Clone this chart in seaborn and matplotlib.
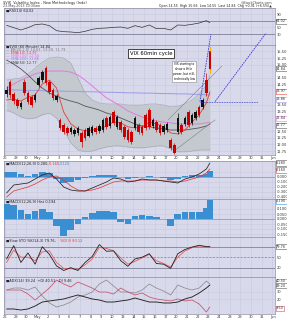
import numpy as np
import pandas as pd
import matplotlib
matplotlib.use("Agg")
import matplotlib.pyplot as plt
import seaborn as sns

sns.set_style("white")
plt.rcParams['font.family'] = ['DejaVu Sans']

# ------------------------------------------------------------------ data
date_labels = ["26", "29", "30", "May", "2", "3", "6", "7", "8", "9", "10", "13", "14",
               "15", "16", "17", "20", "21", "22", "23", "24", "28", "29", "30", "31", "Jun"]

opens = [13.90, 14.35, 13.90, 13.67, 13.41, 14.35, 13.93, 13.78, 13.67, 14.23,
         14.42, 14.87, 14.35, 14.05, 13.67, 12.92, 12.73, 12.62, 12.47, 12.39,
         12.43, 12.43, 12.54, 12.32, 12.43, 12.62, 12.50, 12.54, 12.99, 12.69,
         13.22, 12.66, 12.84, 12.66, 12.54, 12.47, 12.62, 12.73, 12.66, 13.11,
         13.29, 12.69, 12.84, 12.73, 12.47, 12.54, 12.17, 11.98, 12.47, 12.73,
         12.77, 13.22, 12.81, 12.99, 13.41, 13.41, 14.42, 15.51]
highs = [14.20, 14.42, 13.97, 13.75, 13.63, 14.45, 14.00, 13.86, 13.93, 14.57,
         14.80, 14.95, 14.42, 14.12, 13.90, 13.00, 12.80, 12.70, 12.70, 12.60,
         12.70, 12.50, 12.62, 12.69, 12.73, 12.69, 12.77, 13.00, 13.07, 13.11,
         13.30, 13.11, 12.92, 12.73, 12.62, 12.54, 13.07, 12.80, 12.73, 13.18,
         13.37, 13.00, 12.92, 12.80, 12.77, 12.84, 12.24, 12.05, 13.18, 12.80,
         13.07, 13.30, 13.18, 13.30, 13.48, 13.75, 14.68, 15.66]
lows = [13.78, 13.75, 13.52, 13.37, 13.33, 13.86, 13.52, 13.41, 13.60, 14.15,
        14.35, 14.23, 13.90, 13.67, 13.60, 12.55, 12.40, 12.36, 12.40, 12.32,
        12.36, 11.90, 12.17, 12.26, 12.36, 12.40, 12.43, 12.47, 12.58, 12.62,
        12.73, 12.58, 12.47, 12.20, 12.09, 12.00, 12.54, 12.40, 12.36, 12.55,
        12.58, 12.62, 12.47, 12.36, 12.40, 12.47, 11.80, 11.62, 12.39, 12.40,
        12.70, 12.66, 12.73, 12.92, 13.03, 13.33, 13.82, 14.68]
closes = [14.05, 13.86, 13.63, 13.44, 13.56, 13.93, 13.59, 13.48, 13.86, 14.50,
          14.72, 14.31, 13.97, 13.75, 13.82, 12.62, 12.47, 12.43, 12.62, 12.54,
          12.62, 12.09, 12.24, 12.62, 12.66, 12.47, 12.69, 12.92, 12.66, 13.03,
          12.81, 13.03, 12.54, 12.28, 12.17, 12.09, 12.99, 12.47, 12.43, 12.62,
          12.66, 12.92, 12.54, 12.43, 12.69, 12.77, 11.87, 11.68, 12.99, 12.47,
          12.99, 12.73, 13.11, 13.22, 13.11, 13.67, 13.93, 14.84]

# indicators are sampled at these bar numbers
ind_bars = list(range(0, 57, 2)) + [57]

rsi_vals = [56, 49, 42, 49, 58, 60, 55, 40, 37, 36, 34, 38, 44, 47, 48,
            50, 51, 47, 55, 50, 57, 46, 47, 42, 57, 56, 59, 63, 70, 64]
ema_red = [13.67, 13.71, 13.63, 13.78, 13.86, 14.27, 14.42, 14.12, 13.22, 12.77,
           12.58, 12.51, 12.54, 12.58, 12.69, 12.84, 12.81, 12.66, 12.62, 12.66,
           12.84, 12.77, 12.66, 12.43, 12.39, 12.54, 12.84, 13.11, 13.56, 13.97]
sma_gray = [15.17, 15.02, 14.84, 14.61, 14.35, 14.12, 13.93, 13.82, 13.71, 13.63,
            13.56, 13.44, 13.37, 13.29, 13.18, 13.11, 12.99, 12.88, 12.77, 12.69,
            12.66, 12.62, 12.58, 12.54, 12.54, 12.54, 12.58, 12.62, 12.69, 12.77]
sma_pink = [14.12, 14.27, 14.42, 14.53, 14.65, 14.72, 14.76, 14.76, 14.76, 14.72,
            14.61, 14.42, 14.20, 13.97, 13.75, 13.60, 13.44, 13.26, 13.14, 13.03,
            12.96, 12.88, 12.84, 12.81, 12.77, 12.77, 12.77, 12.77, 12.81, 12.84]
sma_lav = [14.05, 14.05, 14.04, 14.03, 14.03, 14.02, 14.01, 14.01, 14.00, 14.00,
           13.99, 13.98, 13.98, 13.97, 13.96, 13.96, 13.95, 13.94, 13.94, 13.93,
           13.93, 13.92, 13.91, 13.91, 13.90, 13.90, 13.89, 13.88, 13.87, 13.86]
bb_upper = [14.42, 14.46, 14.50, 14.65, 14.87, 15.10, 15.25, 15.29, 15.25, 15.06,
            14.50, 13.93, 13.67, 13.56, 13.52, 13.52, 13.52, 13.48, 13.48, 13.48,
            13.52, 13.52, 13.48, 13.41, 13.44, 13.52, 13.67, 13.90, 14.23, 14.61]
bb_lower = [13.29, 13.18, 13.03, 12.96, 12.99, 13.11, 13.18, 12.99, 12.54, 12.05,
            11.79, 11.72, 11.75, 11.83, 11.90, 11.94, 11.94, 11.90, 11.87, 11.87,
            11.90, 11.94, 11.94, 11.83, 11.72, 11.72, 11.75, 11.79, 11.79, 11.79]

macd_line = [-0.32, -0.16, -0.14, -0.12, -0.04, 0.04, 0.08, -0.04, -0.20, -0.26,
             -0.28, -0.28, -0.22, -0.16, -0.10, -0.02, -0.04, -0.10, -0.08, -0.04,
             -0.06, -0.06, -0.08, -0.10, -0.12, -0.04, 0.00, 0.06, 0.16, 0.28]
macd_signal = [-0.40, -0.28, -0.24, -0.20, -0.14, -0.06, 0.00, 0.02, -0.06, -0.18,
               -0.26, -0.28, -0.26, -0.22, -0.16, -0.10, -0.08, -0.08, -0.08, -0.06,
               -0.06, -0.06, -0.08, -0.08, -0.10, -0.08, -0.04, 0.00, 0.08, 0.16]
macd_hist = [0.10, 0.10, 0.06, 0.02, 0.06, 0.10, 0.08, -0.04, -0.12, -0.10,
             -0.06, -0.02, 0.02, 0.04, 0.04, 0.04, 0.00, -0.04, -0.02, 0.00,
             0.02, 0.00, -0.02, -0.06, -0.04, 0.02, 0.04, 0.04, 0.06, 0.12]
hist2 = [0.15, 0.14, 0.09, 0.05, 0.08, 0.10, 0.07, -0.07, -0.17, -0.11,
         -0.05, 0.02, 0.06, 0.08, 0.08, 0.07, -0.03, -0.05, 0.03, 0.04,
         0.03, 0.02, 0.00, -0.07, 0.05, 0.07, 0.07, 0.07, 0.11, 0.19]

stoch_k = [45, 83, 35, 62, 30, 80, 58, 25, 12, 20, 12, 35, 52, 86, 67,
           68, 40, 24, 45, 50, 60, 32, 30, 18, 60, 72, 79, 84, 80, 80]
stoch_d = [35, 70, 50, 50, 40, 65, 68, 35, 18, 17, 15, 28, 45, 78, 75,
           68, 48, 30, 38, 48, 58, 40, 32, 22, 50, 68, 77, 82, 81, 80]

adx_vals = [6.8, 6.8, 5.4, 6.8, 10.8, 16.2, 17.6, 18.9, 20.3, 23.0,
            25.7, 23.0, 20.3, 18.9, 16.2, 16.2, 17.6, 18.9, 21.6, 18.9,
            16.2, 16.2, 14.9, 14.9, 16.2, 20.3, 23.0, 28.4, 35.1, 39.2]
di_minus = [32.4, 32.4, 32.4, 27.0, 18.9, 27.0, 35.1, 45.9, 40.5, 36.5,
            43.2, 39.2, 35.1, 29.7, 29.7, 27.0, 35.1, 29.7, 25.7, 28.4,
            23.0, 20.3, 18.9, 17.6, 20.3, 17.6, 18.9, 13.5, 2.7, 9.5]
di_plus = [32.4, 35.1, 35.1, 32.4, 36.5, 24.3, 14.9, 9.5, 12.2, 16.2,
           23.0, 25.7, 29.7, 40.5, 45.9, 37.8, 29.7, 29.7, 28.4, 32.4,
           40.5, 35.1, 31.1, 25.7, 39.2, 35.1, 32.4, 35.1, 44.6, 40.5]

# ------------------------------------------------------------------ layout
W_PX, H_PX = 287, 320
LEFT_PX, RIGHT_PX = 4, 275
DAY0_PX, PX_PER_DAY = 5, 10.7
BARS_PER_DAY, BAR_OFFSET = 3, 0.15
XMIN = (LEFT_PX - DAY0_PX) / PX_PER_DAY
XMAX = (RIGHT_PX - DAY0_PX) / PX_PER_DAY

BG = '#d9d9ec'
GRID = '#cacadf'
SPINE = '#8c8ca0'
TXT = '#333333'

bar_x = np.arange(len(opens)) / BARS_PER_DAY + BAR_OFFSET
ind_x = np.array(ind_bars) / BARS_PER_DAY + BAR_OFFSET
day_ticks = np.arange(len(date_labels))

fig = plt.figure(figsize=(W_PX / 100, H_PX / 100), dpi=100)
fig.patch.set_facecolor('white')


def make_ax(top, bottom, ylim, yticks, fmt):
    ax = fig.add_axes([LEFT_PX / W_PX, 1 - bottom / H_PX,
                       (RIGHT_PX - LEFT_PX) / W_PX, (bottom - top) / H_PX])
    ax.set_facecolor(BG)
    ax.set_xticks(day_ticks)
    ax.set_xticklabels(date_labels)
    ax.tick_params(axis='x', length=0, labelbottom=False, labelsize=2.6,
                   pad=0.6, colors=TXT)
    ax.yaxis.tick_right()
    ax.set_yticks(yticks)
    ax.set_yticklabels([fmt % v for v in yticks])
    ax.tick_params(axis='y', length=0, labelsize=2.6, pad=1.0, colors=TXT)
    ax.grid(True, color=GRID, lw=0.4)
    ax.set_axisbelow(True)
    for s in ax.spines.values():
        s.set_color(SPINE)
        s.set_linewidth(0.5)
    ax.set_ylim(*ylim)
    return ax


def finish(ax, ylim):
    ax.set_xlim(XMIN, XMAX)
    ax.set_ylim(*ylim)
    ax.set_xlabel('')
    ax.set_ylabel('')


def line(ax, y, color, lw=0.55, z=3):
    sns.lineplot(x=ind_x, y=y, ax=ax, color=color, linewidth=lw,
                 legend=False, sort=False, zorder=z)


def rbox(ax, y, txt, ec):
    ax.text(1.004, y, txt, transform=ax.get_yaxis_transform(), fontsize=2.5,
            va='center', ha='left', color=TXT, clip_on=False, zorder=10,
            bbox=dict(boxstyle='square,pad=0.15', fc='white', ec=ec, lw=0.4))


def legend_text(ax, y_frac, txt, color):
    ax.text(0.008, y_frac, txt, transform=ax.transAxes, fontsize=2.5,
            color=color, va='center', ha='left', zorder=9)


# ---------------- RSI panel
ylim_rsi = (-3, 108)
ax_rsi = make_ax(8, 45, ylim_rsi, [30, 50, 90], '%d')
ax_rsi.axhline(70, color='#80809a', lw=0.6, zorder=2)
ax_rsi.axhline(30, color='#80809a', lw=0.6, zorder=2)
line(ax_rsi, rsi_vals, '#333333', 0.5)
finish(ax_rsi, ylim_rsi)
rbox(ax_rsi, 68, '%.2f' % 64.02, '#555555')
legend_text(ax_rsi, 0.93, '\u25a0RSI(14) 64.02', '#222222')

# ---------------- main price panel
ylim_main = (11.60, 15.74)
pt = [11.75, 12.0, 12.25, 12.5, 13.25, 13.5, 14.25, 14.5, 15.0, 15.25, 15.5]
ax = make_ax(45, 155, ylim_main, pt, '%.2f')
ax.tick_params(axis='x', labelbottom=True)

ax.fill_between(ind_x, bb_lower, bb_upper, color='#c4c9cf', lw=0, zorder=1)
line(ax, bb_upper, '#9ea3aa', 0.4, 2)
line(ax, bb_lower, '#9ea3aa', 0.4, 2)
line(ax, sma_lav, '#9a9ae8', 0.7)
line(ax, sma_pink, '#e27ae2', 0.7)
line(ax, sma_gray, '#555555', 0.6)
line(ax, ema_red, '#e23c3c', 0.6)

o = np.array(opens); c = np.array(closes); h = np.array(highs); l = np.array(lows)
cols = np.where(c < o, '#cc0000', '#111111')
ax.vlines(bar_x, l, h, colors=cols, lw=0.5, zorder=4)
ax.bar(bar_x, np.abs(c - o), bottom=np.minimum(o, c), width=0.24,
       color=cols, lw=0, zorder=5)
# current bar shows its range tips in gold
last = len(opens) - 1
ax.vlines([bar_x[last]], [max(o[last], c[last])], [h[last]], colors='#f0c000', lw=1.0, zorder=6)
ax.vlines([bar_x[last]], [l[last]], [min(o[last], c[last])], colors='#f0c000', lw=1.0, zorder=6)

# drawn trend lines
ax.plot([18.22, 19.25], [13.61, 16.15], color='#3c3cd0', lw=0.6, ls=(0, (2, 1)),
        clip_on=False, zorder=7)
ax.plot([19.63, 24.39], [13.61, 16.19], color='#3c3cd0', lw=0.6, ls=(0, (2, 1)),
        clip_on=False, zorder=7)
ax.plot([18.22, 23.64], [13.61, 13.61], color='#3c3cd0', lw=0.6, ls=(0, (1, 1)),
        zorder=7)
ax.plot([15.23, 20.28], [12.92, 14.95], color='#8a8a8a', lw=0.45, zorder=3)
ax.plot([15.70, 19.63], [11.72, 12.92], color='#8a8a8a', lw=0.45, zorder=3)

ax.text(13.65, 15.42, 'VIX 60min cycle', fontsize=3.8, ha='center', va='center',
        color='black', zorder=8,
        bbox=dict(boxstyle='square,pad=0.35', fc='white', ec='black', lw=0.5))
ax.text(16.73, 14.74, 'VIX starting to\nshow a little\npower, but still,\ntechnically low',
        fontsize=2.1, ha='center', va='center', color='black', zorder=8,
        linespacing=1.25,
        bbox=dict(boxstyle='square,pad=0.35', fc='white', ec='#888888', lw=0.4))
finish(ax, ylim_main)

rbox(ax, closes[-1], '%.2f' % closes[-1], '#555555')
rbox(ax, ema_red[-1] + 0.03, '%.2f' % ema_red[-1], '#e23c3c')
rbox(ax, sma_lav[-1] - 0.16, '%.2f' % sma_lav[-1], '#9a9ae8')
rbox(ax, sma_pink[-1] + 0.14, '%.2f' % sma_pink[-1], '#e27ae2')
rbox(ax, sma_gray[-1] - 0.05, '%.2f' % sma_gray[-1], '#555555')

main_leg = [('\u25a0$VIX (60 Minute) 14.84', '#222222'),
            ('\u2014 BB(20,2.0) 14.61, 13.20, 11.79', '#777777'),
            ('\u2014 EMA(10) 13.97', '#e23c3c'),
            ('\u2014 SMA(100) 12.84', '#e27ae2'),
            ('\u2014 SMA(200) 13.86', '#8a8ae0'),
            ('\u2014 SMA(50) 12.77', '#444444')]
for i, (t, col) in enumerate(main_leg):
    legend_text(ax, 1 - (2.0 + 3.1 * i) / 110, t, col)

# ---------------- MACD panel
ylim_macd = (-0.44, 0.32)
ax_m = make_ax(161, 199, ylim_macd, [-0.4, -0.3, -0.2, -0.1, 0.0, 0.1], '%.3f')
ax_m.axhline(0, color='#80809a', lw=0.4, zorder=2)
ax_m.bar(ind_x, macd_hist, width=0.62, color='#3a8ed2', lw=0, zorder=2)
line(ax_m, macd_signal, '#e23c3c', 0.55)
line(ax_m, macd_line, '#222222', 0.55)
finish(ax_m, ylim_macd)
rbox(ax_m, macd_line[-1], '%.3f' % macd_line[-1], '#555555')
rbox(ax_m, macd_signal[-1] - 0.02, '%.3f' % macd_signal[-1], '#e23c3c')
ax_m.text(0.008, 0.93, '\u25a0MACD(12,26,9) 0.280, ', transform=ax_m.transAxes,
          fontsize=2.5, color='#222222', va='center')
ax_m.text(0.165, 0.93, '0.160, ', transform=ax_m.transAxes, fontsize=2.5,
          color='#e23c3c', va='center')
ax_m.text(0.205, 0.93, '0.120', transform=ax_m.transAxes, fontsize=2.5,
          color='#3a8ed2', va='center')

# ---------------- histogram panel
ylim_h = (-0.18, 0.20)
ax_h = make_ax(199, 237, ylim_h, [-0.15, -0.10, -0.05, 0.0, 0.05, 0.10], '%.3f')
ax_h.axhline(0, color='#80809a', lw=0.4, zorder=2)
ax_h.bar(ind_x, hist2, width=0.62, color='#3a8ed2', lw=0, zorder=3)
finish(ax_h, ylim_h)
rbox(ax_h, 0.175, '%.3f' % hist2[-1], '#3a8ed2')
legend_text(ax_h, 0.92, '\u25a0MACD(12,26,9) Hist 0.194', '#222222')

# ---------------- slow stochastic panel
ylim_s = (-6.6, 107.7)
ax_s = make_ax(237, 277, ylim_s, [20, 50], '%d')
ax_s.axhline(80, color='#80809a', lw=0.6, zorder=2)
ax_s.axhline(20, color='#80809a', lw=0.6, zorder=2)
ax_s.axhline(50, color='#80809a', lw=0.5, ls=(0, (3, 2)), zorder=2)
line(ax_s, stoch_d, '#e85a5a', 0.6)
line(ax_s, stoch_k, '#222222', 0.6)
finish(ax_s, ylim_s)
rbox(ax_s, stoch_k[-1], '%.2f' % 79.76, '#555555')
ax_s.text(0.008, 0.91, '\u25a0Slow STO %K(14,3) 79.76, ', transform=ax_s.transAxes,
          fontsize=2.5, color='#222222', va='center')
ax_s.text(0.205, 0.91, '%D(3) 80.12', transform=ax_s.transAxes, fontsize=2.5,
          color='#e23c3c', va='center')

# ---------------- ADX panel
ylim_a = (0, 50)
ax_a = make_ax(277, 314, ylim_a, [20, 30], '%d')
ax_a.tick_params(axis='x', labelbottom=True)
line(ax_a, di_plus, '#8c8c8c', 0.55)
line(ax_a, di_minus, '#c8506a', 0.55)
line(ax_a, adx_vals, '#222222', 0.65)
finish(ax_a, ylim_a)
rbox(ax_a, 44, '%.2f' % di_plus[-1], '#8c8c8c')
rbox(ax_a, 38, '%.2f' % adx_vals[-1], '#555555')
rbox(ax_a, 8, '%.2f' % di_minus[-1], '#c8506a')
legend_text(ax_a, 0.9, '\u25a0ADX(14) 39.24  +DI 40.51  -DI 9.46', '#222222')

# ---------------- header
fig.text(3 / W_PX, 1 - 2.8 / H_PX, '$VIX  Volatility Index - New Methodology (Indx)',
         fontsize=2.5, color='#222222', va='center', ha='left')
fig.text(3 / W_PX, 1 - 6.0 / H_PX, '23-May-2013 10:30am', fontsize=2.3,
         color='#444444', va='center', ha='left')
fig.text(272 / W_PX, 1 - 2.8 / H_PX, '@StockCharts.com', fontsize=2.4,
         color='#444444', va='center', ha='right')
fig.text(272 / W_PX, 1 - 6.0 / H_PX,
         'Open 14.55  High 15.66  Low 14.55  Last 14.84  Chg +0.91 (+6.5%)\u25b2',
         fontsize=2.3, color='#222222', va='center', ha='right')

fig.savefig('out.png', dpi=100, facecolor='white')
